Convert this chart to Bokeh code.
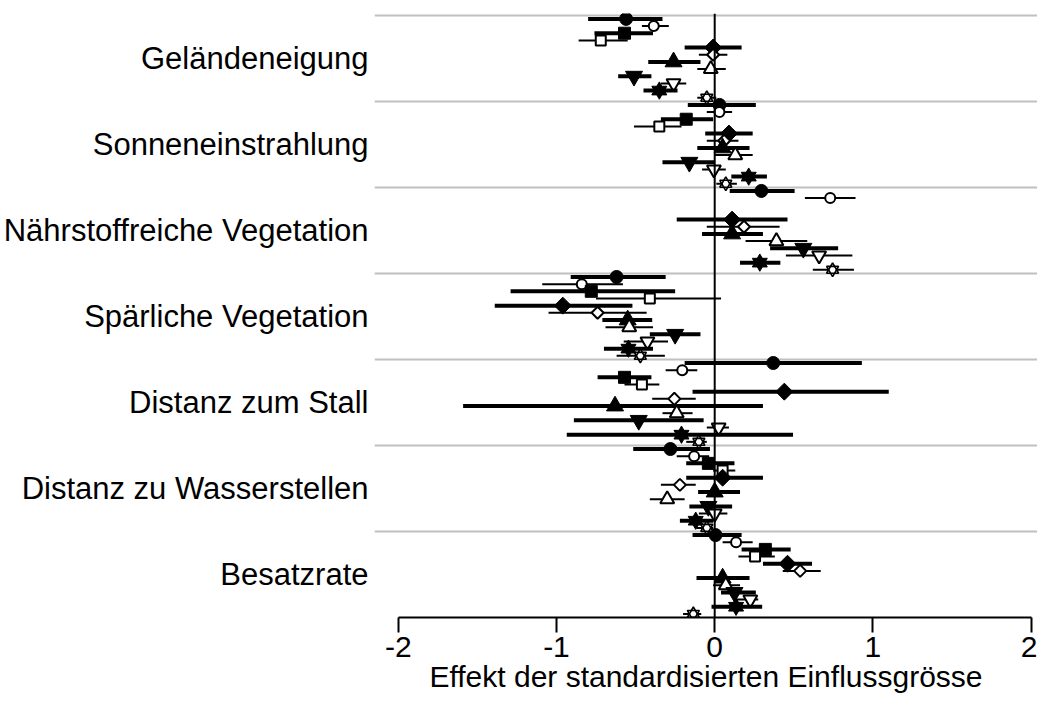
import math
from bokeh.plotting import figure
from bokeh.models import Range1d, FixedTicker, Span, ColumnDataSource
from bokeh.embed import file_html
from bokeh.resources import INLINE

categories = ["Geländeneigung", "Sonneneinstrahlung", "Nährstoffreiche Vegetation",
              "Spärliche Vegetation", "Distanz zum Stall", "Distanz zu Wasserstellen", "Besatzrate"]
x_ticks = [-2, -1, 0, 1, 2]
x_tick_labels = ["-2", "-1", "0", "1", "2"]

# estimates, lower and upper limits per category (None = not estimated)
circ_f    = [-0.56, 0.03, 0.295, -0.62, 0.37, -0.28, 0.005]
circ_f_lo = [-0.80, -0.17, 0.095, -0.91, -0.19, -0.515, -0.14]
circ_f_hi = [-0.33, 0.26, 0.505, -0.31, 0.93, -0.03, 0.17]

circ_o    = [-0.385, 0.03, 0.73, -0.84, -0.205, -0.13, 0.135]
circ_o_lo = [-0.46, -0.05, 0.57, -1.09, -0.31, -0.24, 0.05]
circ_o_hi = [-0.29, 0.11, 0.89, -0.58, -0.11, -0.035, 0.24]

sq_f    = [-0.57, -0.18, None, -0.78, -0.57, -0.04, 0.32]
sq_f_lo = [-0.76, -0.34, None, -1.29, -0.74, -0.18, 0.17]
sq_f_hi = [-0.39, -0.01, None, -0.25, -0.40, 0.125, 0.48]

sq_o    = [-0.72, -0.35, None, -0.41, -0.46, 0.05, 0.255]
sq_o_lo = [-0.86, -0.51, None, -0.75, -0.57, -0.01, 0.15]
sq_o_hi = [-0.55, -0.21, None, 0.04, -0.35, 0.13, 0.38]

dia_f    = [-0.01, 0.09, 0.11, -0.96, 0.44, 0.05, 0.46]
dia_f_lo = [-0.19, -0.06, -0.24, -1.39, -0.14, -0.18, 0.305]
dia_f_hi = [0.17, 0.24, 0.46, -0.52, 1.10, 0.305, 0.615]

dia_o    = [-0.01, 0.06, 0.185, -0.74, -0.255, -0.22, 0.54]
dia_o_lo = [-0.10, -0.05, -0.05, -1.05, -0.395, -0.34, 0.43]
dia_o_hi = [0.08, 0.15, 0.41, -0.43, -0.12, -0.12, 0.67]

tri_f    = [-0.26, 0.05, 0.11, -0.55, -0.63, 0.0, 0.05]
tri_f_lo = [-0.42, -0.11, -0.08, -0.71, -1.59, -0.105, -0.115]
tri_f_hi = [-0.09, 0.22, 0.305, -0.395, 0.305, 0.16, 0.22]

tri_o    = [-0.025, 0.13, 0.39, -0.54, -0.24, -0.30, 0.07]
tri_o_lo = [-0.11, 0.0, 0.195, -0.69, -0.33, -0.41, -0.01]
tri_o_hi = [0.07, 0.24, 0.585, -0.39, -0.14, -0.19, 0.16]

inv_f    = [-0.51, -0.16, 0.56, -0.25, -0.48, -0.04, 0.125]
inv_f_lo = [-0.61, -0.33, 0.35, -0.41, -0.89, -0.16, 0.04]
inv_f_hi = [-0.40, 0.0, 0.78, -0.09, -0.07, 0.11, 0.26]

inv_o    = [-0.26, -0.005, 0.66, -0.425, 0.025, 0.0, 0.225]
inv_o_lo = [-0.34, -0.08, 0.45, -0.575, -0.05, -0.10, 0.135]
inv_o_hi = [-0.18, 0.07, 0.87, -0.295, 0.09, 0.08, 0.275]

hex_f    = [-0.35, 0.215, 0.285, -0.545, -0.21, -0.12, 0.135]
hex_f_lo = [-0.45, 0.105, 0.16, -0.70, -0.935, -0.22, -0.02]
hex_f_hi = [-0.235, 0.33, 0.415, -0.39, 0.495, -0.01, 0.30]

hex_o    = [-0.05, 0.07, 0.745, -0.47, -0.10, -0.05, -0.135]
hex_o_lo = [-0.11, 0.01, 0.62, -0.62, -0.18, -0.115, -0.20]
hex_o_hi = [0.01, 0.14, 0.88, -0.315, -0.05, -0.01, -0.085]

series = [
    (circ_f, circ_f_lo, circ_f_hi, "circle", True, 13),
    (circ_o, circ_o_lo, circ_o_hi, "circle", False, 10),
    (sq_f, sq_f_lo, sq_f_hi, "square", True, 12),
    (sq_o, sq_o_lo, sq_o_hi, "square", False, 10),
    (dia_f, dia_f_lo, dia_f_hi, "diamond", True, 12),
    (dia_o, dia_o_lo, dia_o_hi, "diamond", False, 8.5),
    (tri_f, tri_f_lo, tri_f_hi, "triangle", True, 17),
    (tri_o, tri_o_lo, tri_o_hi, "triangle", False, 14),
    (inv_f, inv_f_lo, inv_f_hi, "inverted_triangle", True, 17),
    (inv_o, inv_o_lo, inv_o_hi, "inverted_triangle", False, 14),
    (hex_f, hex_f_lo, hex_f_hi, "hexagram", True, 15),
    (hex_o, hex_o_lo, hex_o_hi, "hexagram", False, 12),
]

nrow = len(series)
ncat = len(categories)
FONT = "Liberation Sans"

p = figure(width=1037, height=695, output_backend="svg", toolbar_location=None,
           x_range=Range1d(-2.150, 2.040), y_range=Range1d(ncat * nrow, -0.25),
           min_border_left=373, min_border_right=0, min_border_top=13, min_border_bottom=70)
p.outline_line_color = None
p.background_fill_color = "white"

# grid between categories
p.xgrid.visible = False
p.ygrid.ticker = FixedTicker(ticks=[k * nrow for k in range(ncat)])
p.ygrid.grid_line_color = "#c0c0c0"
p.ygrid.grid_line_width = 2

# y axis: category names
p.yaxis.ticker = FixedTicker(ticks=[k * nrow + nrow / 2 for k in range(ncat)])
p.yaxis.major_label_overrides = {k * nrow + nrow / 2: c for k, c in enumerate(categories)}
p.yaxis.axis_line_color = None
p.yaxis.major_tick_line_color = None
p.yaxis.minor_tick_line_color = None
p.yaxis.major_label_standoff = 0
p.yaxis.major_label_text_font = FONT
p.yaxis.major_label_text_font_size = "31px"
p.yaxis.major_label_text_color = "black"

# x axis
p.xaxis.bounds = (-2, 2)
p.xaxis.ticker = FixedTicker(ticks=x_ticks)
p.xaxis.major_label_overrides = dict(zip(x_ticks, x_tick_labels))
p.xaxis.axis_line_width = 2
p.xaxis.axis_line_color = "black"
p.xaxis.major_tick_line_width = 2
p.xaxis.major_tick_line_color = "black"
p.xaxis.major_tick_out = 15
p.xaxis.major_tick_in = 0
p.xaxis.minor_tick_line_color = None
p.xaxis.major_label_text_font = FONT
p.xaxis.major_label_text_font_size = "30px"
p.xaxis.major_label_text_color = "black"
p.xaxis.major_label_standoff = 4
p.xaxis.axis_label = "Effekt der standardisierten Einflussgrösse"
p.xaxis.axis_label_text_font = FONT
p.xaxis.axis_label_text_font_size = "30px"
p.xaxis.axis_label_text_font_style = "normal"
p.xaxis.axis_label_text_color = "black"
p.xaxis.axis_label_standoff = 0

p.add_layout(Span(location=0, dimension="height", line_color="black", line_width=2))

for j, (est, lo, hi, marker, filled, size) in enumerate(series):
    ys, xs, los, his = [], [], [], []
    for k in range(ncat):
        if est[k] is None:
            continue
        ys.append(k * nrow + j + 0.5)
        xs.append(est[k]); los.append(lo[k]); his.append(hi[k])
    src = ColumnDataSource(dict(y=ys, x=xs, lo=los, hi=his))
    p.segment(x0="lo", y0="y", x1="hi", y1="y", source=src, line_color="black",
              line_width=4 if filled else 2, line_cap="butt")
    fill = "black" if filled else "white"
    lw = 1 if filled else 2
    if marker == "hexagram":
        if filled:
            for m in ("triangle", "inverted_triangle"):
                p.scatter(x="x", y="y", source=src, marker=m, size=size,
                          fill_color="black", line_color="black", line_width=1)
        else:
            for m in ("triangle", "inverted_triangle"):
                p.scatter(x="x", y="y", source=src, marker=m, size=size,
                          fill_color="white", line_color=None)
            for m in ("triangle", "inverted_triangle"):
                p.scatter(x="x", y="y", source=src, marker=m, size=size,
                          fill_color=None, line_color="black", line_width=1.6)
    elif marker == "diamond":
        p.scatter(x="x", y="y", source=src, marker="square", angle=math.pi / 4, size=size,
                  fill_color=fill, line_color="black", line_width=lw)
    else:
        p.scatter(x="x", y="y", source=src, marker=marker, size=size,
                  fill_color=fill, line_color="black", line_width=lw)

open("out.html", "w").write(file_html(p, INLINE))
